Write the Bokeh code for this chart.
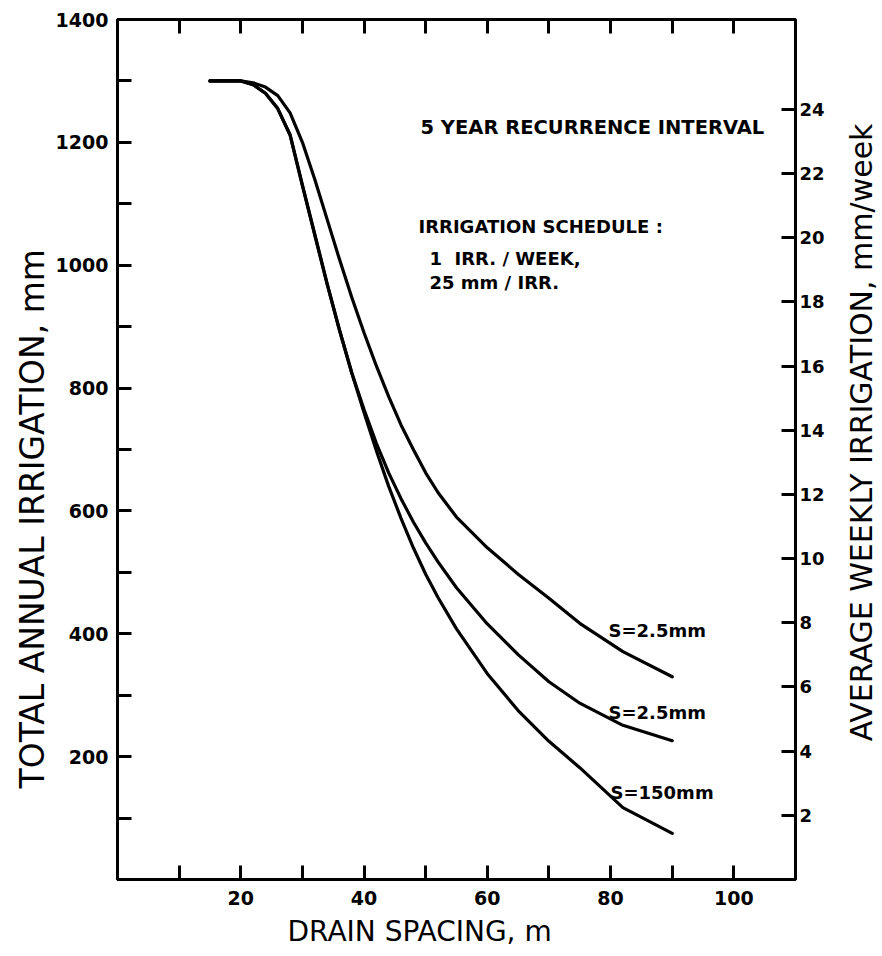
import math
from bokeh.plotting import figure
from bokeh.layouts import row
from bokeh.models import Range1d, LinearAxis, FixedTicker, Title
from bokeh.models import Label
from bokeh.embed import file_html
from bokeh.resources import INLINE

# ---------------- data ----------------
drain_spacing = [15, 20, 22, 24, 26, 28, 30, 32, 34, 36, 38, 40, 42, 44, 46, 48, 50,
                 52, 55, 60, 65, 70, 75, 82, 90]
irr_s2_5 = [1300, 1300, 1297, 1290, 1276, 1248, 1200, 1140, 1075, 1010, 948, 890, 836,
            786, 740, 700, 662, 630, 590, 540, 497, 458, 417, 371, 330]
irr_s25 = [1300, 1300, 1294, 1280, 1255, 1212, 1130, 1050, 970, 895, 825, 765, 710,
           662, 620, 582, 548, 517, 475, 416, 366, 322, 287, 251, 226]
irr_s150 = [1300, 1300, 1294, 1280, 1255, 1212, 1130, 1050, 970, 895, 825, 760, 698,
            640, 588, 540, 497, 459, 408, 335, 275, 225, 182, 117, 75]

x_major = [20, 40, 60, 80, 100]
x_minor = [10, 30, 50, 70, 90]
x_top = [10, 20, 30, 40, 50, 60, 70, 80, 90, 100]
y_major = [200, 400, 600, 800, 1000, 1200, 1400]
y_minor = [100, 300, 500, 700, 900, 1100, 1300]
wk_ticks = [2, 4, 6, 8, 10, 12, 14, 16, 18, 20, 22, 24]

curve_labels = ["S=2.5mm", "S=2.5mm", "S=150mm"]

# ---------------- layout ----------------
TOTAL_W, TOTAL_H = 882, 956
XMAX, YMAX, WKMAX = 110, 1400, 26.8
FW, FH = 678, 860
BL, BT, BR, BB = 117, 19, 40, 77
FONT = "DejaVu Sans"
P_W = BL + FW + BR
SIDE_W = TOTAL_W - P_W

p = figure(frame_width=FW, frame_height=FH,
           min_border_left=BL, min_border_right=BR,
           min_border_top=BT, min_border_bottom=BB,
           x_range=Range1d(0, XMAX), y_range=Range1d(0, YMAX),
           output_backend="svg", toolbar_location=None,
           background_fill_color="white", border_fill_color="white")
p.grid.visible = False
p.outline_line_color = "black"
p.outline_line_width = 3
p.extra_y_ranges = {"wk": Range1d(0, WKMAX)}


def style_axis(ax, size="19px"):
    ax.axis_line_width = 3
    ax.axis_line_color = "black"
    ax.major_tick_in = 14
    ax.major_tick_out = 0
    ax.minor_tick_in = 14
    ax.minor_tick_out = 0
    ax.major_tick_line_width = 3
    ax.minor_tick_line_width = 3
    ax.major_tick_line_color = "black"
    ax.minor_tick_line_color = "black"
    ax.major_label_text_font = FONT
    ax.major_label_text_font_style = "bold"
    ax.major_label_text_font_size = size
    ax.major_label_text_color = "black"


xa = p.xaxis[0]
xa.ticker = FixedTicker(ticks=x_major, minor_ticks=x_minor)
style_axis(xa, "19px")
xa.major_label_standoff = 11

ya = p.yaxis[0]
ya.ticker = FixedTicker(ticks=y_major, minor_ticks=y_minor)
style_axis(ya, "19px")
ya.major_label_standoff = 9

top = LinearAxis(ticker=FixedTicker(ticks=[], minor_ticks=x_top))
style_axis(top)
p.add_layout(top, "above")

right = LinearAxis(y_range_name="wk", ticker=FixedTicker(ticks=wk_ticks))
style_axis(right, "18px")
right.major_label_standoff = 4
p.add_layout(right, "right")

# axis titles (left / bottom) as side titles so they can be offset
p.add_layout(Title(text="TOTAL ANNUAL IRRIGATION, mm", align="left", offset=91,
                   text_font=FONT, text_font_size="33px", text_font_style="normal",
                   text_color="black", standoff=2), "left")
p.add_layout(Title(text="DRAIN SPACING, m", align="left", offset=170,
                   text_font=FONT, text_font_size="28px", text_font_style="normal",
                   text_color="black", standoff=10), "below")

# ---------------- curves ----------------
for ys in (irr_s2_5, irr_s25, irr_s150):
    p.line(drain_spacing, ys, line_color="black", line_width=3.2,
           line_join="round", line_cap="round")


# ---------------- in-plot texts ----------------
def dx(px):
    return (px - BL) / FW * XMAX


def dy(py):
    return (BT + FH - py) / FH * YMAX


def add_text(txt, px, py, size, style="bold"):
    p.add_layout(Label(x=dx(px), y=dy(py), text=txt, text_font=FONT,
                       text_font_size=size, text_font_style=style,
                       text_align="left", text_baseline="middle",
                       text_color="black"))


add_text("5 YEAR RECURRENCE INTERVAL", 420, 127, "19.5px")
add_text("IRRIGATION SCHEDULE :", 418, 226, "18px")
add_text("1\u00a0\u00a0IRR. / WEEK,", 429, 258, "18px")
add_text("25 mm / IRR.", 429, 282, "18px")

add_text(curve_labels[0], 608, 630, "18px")
add_text(curve_labels[1], 608, 712, "18px")
add_text(curve_labels[2], 610, 792, "18px")

# ---------------- right-hand axis title (narrow side panel) ----------------
side = figure(width=SIDE_W, height=TOTAL_H, min_border=0,
              x_range=Range1d(0, SIDE_W), y_range=Range1d(0, TOTAL_H),
              x_axis_type=None, y_axis_type=None,
              output_backend="svg", toolbar_location=None,
              background_fill_color="white", border_fill_color="white")
side.grid.visible = False
side.outline_line_color = None
side.add_layout(Label(x=861 - P_W, y=TOTAL_H - 459,
                      text="AVERAGE WEEKLY IRRIGATION, mm/week",
                      text_font=FONT, text_font_size="30px", text_font_style="normal",
                      text_align="center", text_baseline="middle",
                      angle=math.pi / 2, text_color="black"))

layout = row(p, side, spacing=0)
open("out.html", "w").write(file_html(layout, INLINE))
